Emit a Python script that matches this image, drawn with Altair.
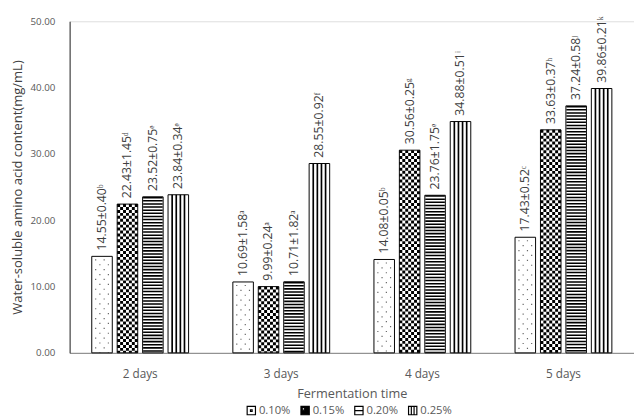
import altair as alt
import pandas as pd

days = ["2 days", "3 days", "4 days", "5 days"]
concs = ["0.10%", "0.15%", "0.20%", "0.25%"]
means = {
    "0.10%": [14.55, 10.69, 14.08, 17.43],
    "0.15%": [22.43, 9.99, 30.56, 33.63],
    "0.20%": [23.52, 10.71, 23.76, 37.24],
    "0.25%": [23.84, 28.55, 34.88, 39.86],
}
sds = {
    "0.10%": [0.40, 1.58, 0.05, 0.52],
    "0.15%": [1.45, 0.24, 0.25, 0.37],
    "0.20%": [0.75, 1.82, 1.75, 0.58],
    "0.25%": [0.34, 0.92, 0.51, 0.21],
}
letters = {
    "0.10%": ["b", "a", "b", "c"],
    "0.15%": ["d", "a", "g", "h"],
    "0.20%": ["e", "a", "e", "j"],
    "0.25%": ["e", "f", "i", "k"],
}
sup = {"a": "ᵃ", "b": "ᵇ", "c": "ᶜ", "d": "ᵈ", "e": "ᵉ", "f": "ᶠ",
       "g": "ᵍ", "h": "ʰ", "i": "ⁱ", "j": "ʲ", "k": "ᵏ"}

rows = []
for c in concs:
    for i, d in enumerate(days):
        rows.append({
            "day": d, "conc": c, "value": means[c][i],
            "label": f"{means[c][i]:.2f}±{sds[c][i]:.2f}{sup[letters[c][i]]}",
        })
df = pd.DataFrame(rows)

FONT = "Open Sans"
x_enc = alt.X(
    "day:N",
    scale=alt.Scale(domain=days, paddingInner=0, paddingOuter=0),
    axis=alt.Axis(title="Fermentation time", labelAngle=0, ticks=False,
                  labelPadding=16, labelFont=FONT, labelFontSize=12,
                  labelColor="#595959", domainColor="#7f7f7f",
                  titleFont=FONT, titleFontSize=13, titleFontWeight="normal",
                  titleColor="#595959", titlePadding=9),
)
y_enc = alt.Y(
    "value:Q",
    scale=alt.Scale(domain=[0, 50], nice=False),
    axis=alt.Axis(title="Water-soluble amino acid content(mg/mL)",
                  values=[0, 10, 20, 30, 40, 50], format=".2f", grid=False,
                  ticks=False, labelPadding=15, labelFont=FONT, labelFontSize=10,
                  labelColor="#595959", domainColor="#262626",
                  titleFont=FONT, titleFontSize=13.3, titleFontWeight="normal",
                  titleColor="#404040", titlePadding=6),
)

offs = [-39, -13, 13, 39]
BW = 21
layers = []

for s, c in enumerate(concs):
    base = alt.Chart(df).transform_filter(alt.datum.conc == c)
    off = offs[s]
    layers.append(base.mark_bar(width=BW, xOffset=off, color="white")
                  .encode(x=x_enc, y=y_enc))
    pat = []
    if s == 0:
        for k, dx in enumerate([-6.5, -2.2, 2.2, 6.5]):
            pat.append(dict(xOffset=off + dx, strokeWidth=1.2, strokeDash=[1.2, 8.8],
                            strokeDashOffset=-3 - 5 * (k % 2), color="#666666"))
    elif s == 1:
        for k in range(7):
            pat.append(dict(xOffset=off - 9 + 3 * k, strokeWidth=3, strokeDash=[3, 3],
                            strokeDashOffset=3 * (k % 2), color="black"))
    elif s == 2:
        pat.append(dict(xOffset=off, strokeWidth=BW - 1, strokeDash=[1.6, 1.6],
                        strokeDashOffset=0, color="black"))
    else:
        for dx in [-6.3, -2.1, 2.1, 6.3]:
            pat.append(dict(xOffset=off + dx, strokeWidth=1.7, color="black"))
    for p in pat:
        layers.append(base.mark_rule(**p).encode(x=x_enc, y=y_enc, y2=alt.datum(0)))
    layers.append(base.mark_bar(width=BW, xOffset=off, fillOpacity=0,
                                stroke="black", strokeWidth=1)
                  .encode(x=x_enc, y=y_enc))
    layers.append(base.mark_text(angle=270, align="left", baseline="middle", dx=6,
                                 xOffset=off, font=FONT, fontSize=12.5, color="#404040")
                  .encode(x=x_enc, y=y_enc, text="label:N"))

shape_paths = [
    "M-1,-1H1V1H-1Z M-0.2,-0.2H0.2V0.2H-0.2Z",
    "M-1,-1H1V1H-1Z M-0.7,-0.7V-0.1H-0.1V-0.7Z",
    "M-1,-1H1V1H-1Z M-1,0H1",
    "M-1,-1H1V1H-1Z M-0.33,-1V1 M0.33,-1V1",
]
leg = alt.Legend(title=None, orient="none", legendX=180, legendY=392,
                 direction="horizontal", labelFont=FONT, labelFontSize=11.5,
                 labelColor="#595959", symbolSize=72,
                 symbolStrokeWidth=1.2, symbolOpacity=1, columnPadding=8,
                 labelOffset=2)
legend_layer = alt.Chart(df).mark_point(filled=True).encode(
    x=x_enc, y=y_enc,
    shape=alt.Shape("conc:N", scale=alt.Scale(domain=concs, range=shape_paths), legend=leg),
    fill=alt.Fill("conc:N", scale=alt.Scale(domain=concs,
                  range=["white", "black", "white", "white"]), legend=leg),
    stroke=alt.Stroke("conc:N", scale=alt.Scale(domain=concs,
                      range=["black", "black", "black", "black"]), legend=leg),
    opacity=alt.value(0),
)
layers.append(legend_layer)

chart = alt.layer(*layers).properties(
    width=577, height=339,
    autosize=alt.AutoSizeParams(type="none"),
    padding={"left": 63, "top": 9, "right": 0, "bottom": 60},
).configure_view(stroke=None).configure(background="white")

chart.save("out.html", embed_options={"renderer": "svg", "actions": False})
